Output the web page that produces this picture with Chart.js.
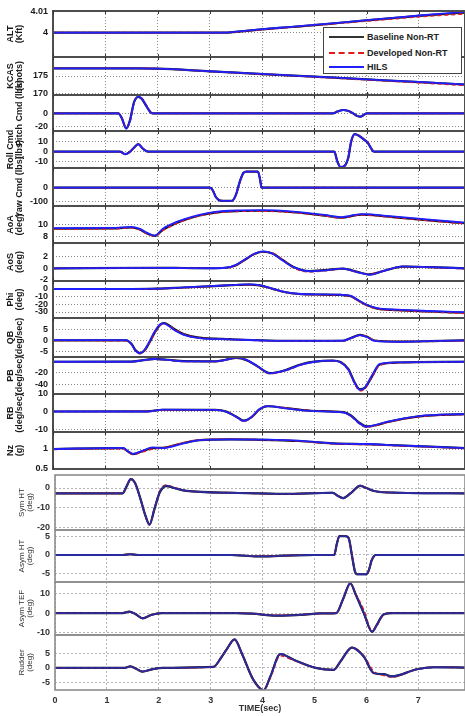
<!DOCTYPE html>
<html lang="en">
<head>
<meta charset="UTF-8">
<title>Baseline Non-RT / Developed Non-RT / HILS</title>
<script src="https://cdn.jsdelivr.net/npm/chart.js"></script>
<style>
  html, body { margin: 0; padding: 0; background: #fff; }
  #page { position: relative; width: 465px; height: 716px; overflow: hidden; }
  .panel { position: absolute; left: 0; }
  #legend { position: absolute; left: 323px; top: 27px; width: 137px; height: 45px; border: 1px solid #444;
            background: #fff; font: bold 9px "Liberation Sans", Arial, sans-serif; color: #222; z-index: 5; }
  #legend .row { position: absolute; left: 0; width: 137px; height: 10px; }
  #legend .swatch { position: absolute; left: 5px; width: 35px; top: 4px; height: 0; }
  #legend .row span { position: absolute; left: 43px; top: 0; line-height: 10px; white-space: nowrap; }
</style>
</head>
<body>
<div id="page">
  <div id="legend">
    <div class="row" style="top:4px"><div class="swatch" style="border-top:2px solid #333"></div><span>Baseline Non-RT</span></div>
    <div class="row" style="top:20px"><div class="swatch" style="border-top:2px dashed #e31a1a"></div><span>Developed Non-RT</span></div>
    <div class="row" style="top:34px"><div class="swatch" style="border-top:2px solid #2020ff"></div><span>HILS</span></div>
  </div>
</div>
<script>
// ---- data ----
const timeTicks = [0, 1, 2, 3, 4, 5, 6, 7];

const altT    = [0, 3.3, 3.6, 4, 4.5, 5, 5.5, 6, 6.5, 7, 7.5, 7.9];
const altBase = [4, 4, 4.0006, 4.0015, 4.0025, 4.0035, 4.0046, 4.0057, 4.0068, 4.0078, 4.0087, 4.0094];
const altDev  = [4, 4, 4.0005, 4.0014, 4.0024, 4.0034, 4.0044, 4.0054, 4.0064, 4.0074, 4.0082, 4.0088];
const altHils = [4, 4, 4.0007, 4.0016, 4.0026, 4.0036, 4.0047, 4.0058, 4.0069, 4.008, 4.009, 4.0097];
const altTicks = [4, 4.01];

const kcasT    = [0, 1, 1.5, 2, 3, 4, 5, 6, 7, 7.9];
const kcasBase = [177.15, 177.15, 177.12, 177.05, 176.3, 175.55, 174.8, 174.05, 173.3, 172.6];
const kcasDev  = [177.15, 177.15, 177.14, 177.04, 176.28, 175.5, 174.73, 173.93, 173.12, 172.35];
const kcasHils = [177.15, 177.15, 177.12, 177.06, 176.32, 175.57, 174.83, 174.08, 173.34, 172.66];
const kcasTicks = [170, 175];

const pitchT    = [0, 1.25, 1.32, 1.4, 1.47, 1.55, 1.63, 1.7, 1.78, 1.86, 1.9, 5.35, 5.45, 5.55, 5.65, 5.74, 5.82, 5.88, 5.95, 6.0, 7.9];
const pitchBase = [0, 0, -8, -22.5, -11, 17, 24.5, 21.5, 11.5, 2, 0, 0, 3, 5, 3.5, 0, -4, -5, -2, 0, 0];
const pitchDev  = [0, 0, -7, -22, -13, 15, 24.5, 22.5, 13, 3, 0, 0, 3, 5, 3.5, 0, -4, -5, -2.5, 0, 0];
const pitchHils = [0, 0, -8, -23, -12, 16, 25, 22, 12, 2, 0, 0, 3, 5, 3.5, 0, -4, -5, -2, 0, 0];
const pitchTicks = [-20, 0];

const rollT    = [0, 1.28, 1.38, 1.45, 1.55, 1.63, 1.72, 1.82, 5.38, 5.44, 5.5, 5.58, 5.65, 5.7, 5.77, 5.85, 5.95, 6.02, 6.1, 6.14, 7.9];
const rollBase = [0, 0, -2.5, -1, 4, 7.5, 3, 0, 0, -10, -15.5, -14, -5.5, 9.5, 17.5, 16, 12, 9, 2, 0, 0];
const rollDev  = [0, 0, -2.3, -1.2, 3.6, 7.3, 3.2, 0, 0, -9.5, -15.2, -14.2, -6, 9, 17.2, 16.4, 12.6, 9.6, 2.6, 0, 0];
const rollHils = [0, 0, -2.5, -1, 4, 7.5, 3, 0, 0, -10, -15.5, -14, -5, 10, 17.5, 16, 12, 9, 2, 0, 0];
const rollTicks = [-10, 0, 10];

const yawT    = [0, 3.0, 3.05, 3.12, 3.2, 3.42, 3.5, 3.57, 3.64, 3.7, 3.92, 3.96, 3.99, 7.9];
const yawBase = [0, 0, -15, -70, -92, -95, -50, 40, 105, 115, 115, 60, 0, 0];
const yawDev  = [0, 0, -13, -66, -91, -95, -53, 35, 102, 115, 115, 65, 2, 0];
const yawHils = [0, 0, -15, -70, -92, -95, -50, 40, 105, 115, 115, 60, 0, 0];
const yawTicks = [-100, 0];

const aoaT    = [0, 1.2, 1.5, 1.65, 1.8, 1.95, 2.1, 2.3, 2.5, 2.8, 3.1, 3.5, 4.0, 4.6, 5.2, 5.5, 5.9, 6.5, 7.2, 7.9];
const aoaBase = [9.3, 9.35, 9.5, 9.2, 8.5, 8.1, 9.1, 10.0, 10.7, 11.5, 12.0, 12.25, 12.3, 12.05, 11.5, 11.15, 11.65, 11.25, 10.7, 10.2];
const aoaDev  = [9.25, 9.3, 9.45, 9.15, 8.45, 8.1, 9.0, 9.95, 10.65, 11.45, 11.95, 12.2, 12.25, 12.0, 11.45, 11.1, 11.6, 11.2, 10.65, 10.1];
const aoaHils = [9.4, 9.45, 9.6, 9.3, 8.6, 8.15, 9.3, 10.2, 10.85, 11.6, 12.1, 12.35, 12.4, 12.15, 11.6, 11.25, 11.75, 11.35, 10.8, 10.3];
const aoaTicks = [8, 10];

const aosT    = [0, 2.0, 2.5, 3.0, 3.3, 3.5, 3.7, 3.85, 4.02, 4.2, 4.4, 4.6, 4.9, 5.2, 5.55, 5.8, 6.06, 6.3, 6.7, 7.2, 7.9];
const aosBase = [0, 0.1, 0.06, 0.02, 0.1, 0.55, 1.65, 2.45, 2.85, 2.55, 1.4, 0.25, -0.45, -0.3, -0.05, -0.55, -1.05, -0.5, 0.3, 0.2, 0];
const aosDev  = [0, 0.1, 0.07, 0.03, 0.08, 0.5, 1.6, 2.4, 2.85, 2.6, 1.45, 0.1, -0.6, -0.4, -0.1, -0.6, -1.0, -0.45, 0.3, 0.15, -0.05];
const aosHils = [0, 0.08, 0.05, 0.02, 0.1, 0.6, 1.7, 2.5, 2.9, 2.5, 1.3, 0.2, -0.5, -0.35, -0.05, -0.6, -1.1, -0.5, 0.35, 0.2, 0];
const aosTicks = [-2, 0, 2];

const phiT    = [0, 1.5, 2.0, 2.5, 3.0, 3.4, 3.75, 3.95, 4.2, 4.45, 4.7, 5.0, 5.5, 5.7, 5.85, 6.0, 6.2, 6.6, 7.2, 7.9];
const phiBase = [0, 0, 0.4, 1.9, 3.5, 4.9, 5.8, 4.8, 0.2, -4.3, -6.5, -7.2, -7.8, -9.5, -15.5, -21, -25.5, -27.6, -29.3, -31];
const phiDev  = [0, -0.3, 0.2, 1.7, 3.4, 4.8, 5.7, 4.6, 0, -4.5, -6.7, -7.4, -8, -9.8, -16, -21.5, -26, -28, -29.8, -31.8];
const phiHils = [0, 0, 0.5, 2.0, 3.6, 5.0, 6.0, 5.0, 0.5, -4, -6.2, -7, -7.5, -9, -15, -20.5, -25, -27, -28.7, -30.3];
const phiTicks = [-30, -20, -10, 0];

const qbT    = [0, 1.4, 1.5, 1.58, 1.66, 1.75, 1.85, 1.95, 2.05, 2.12, 2.2, 2.35, 2.5, 2.8, 3.4, 4.1, 5.0, 5.55, 5.72, 5.87, 6.0, 6.15, 6.6, 7.2, 7.9];
const qbBase = [0.3, 0.3, -1.3, -4.2, -5.5, -4.3, -0.5, 4.0, 7.3, 8.1, 7.4, 5.0, 3.1, 1.5, 0.8, 0.2, 0, 0.1, 1.6, 2.8, 2.0, 0.2, -0.3, -0.1, 0.3];
const qbDev  = [0.2, 0.1, -1.6, -4.6, -5.8, -4.4, -0.6, 3.8, 7.2, 8.0, 7.3, 4.9, 3.0, 1.4, 0.7, 0.1, -0.1, 0, 1.4, 2.6, 2.1, 0.3, -0.3, -0.2, 0.2];
const qbHils = [0.4, 0.4, -1.5, -4.5, -5.6, -4.0, 0, 4.5, 7.6, 8.0, 7.0, 4.5, 2.8, 1.3, 0.7, 0.15, 0, 0.1, 1.5, 2.7, 1.8, 0, -0.4, -0.1, 0.3];
const qbTicks = [-5, 0, 5];

const pbT    = [0, 1.5, 1.7, 1.95, 2.2, 2.5, 3.1, 3.3, 3.51, 3.7, 3.9, 4.15, 4.45, 4.75, 5.0, 5.35, 5.5, 5.65, 5.77, 5.87, 5.97, 6.1, 6.25, 6.6, 7.9];
const pbBase = [-1.2, -1.0, 1.2, 3.6, 2.2, -0.3, -0.4, 2.2, 5.6, 1.6, -8.5, -21, -15.5, -5.5, -1, 0.8, -1.8, -14, -37, -49, -46, -27, -6, -2.5, -1.2];
const pbDev  = [-1.5, -1.3, 0.8, 3.3, 1.8, -0.7, -0.7, 1.8, 5.5, 1.5, -8.8, -22, -16.5, -6.5, -1.5, 0.4, -2.5, -16, -39, -51.5, -47, -28, -7, -2.8, -1.5];
const pbHils = [-1.2, -1.2, 1, 3.5, 2, -0.5, -0.5, 2, 5.8, 2, -8, -21.4, -16, -6, -1.2, 0.6, -2, -15, -38, -50, -45, -25, -5, -2.3, -1.2];
const pbTicks = [-40, -20];

const rbT    = [0, 1.8, 2.1, 3.1, 3.3, 3.5, 3.65, 3.8, 3.95, 4.1, 4.5, 5.0, 5.55, 5.7, 5.85, 6.0, 6.15, 6.4, 7.0, 7.9];
const rbBase = [0, 0.1, 1.0, 0.9, 0.1, -2.8, -5.2, -3.2, 1.2, 3.0, 1.8, 0.3, -0.4, -2.3, -6.2, -8.5, -8.0, -6.0, -2.8, -1.5];
const rbDev  = [0, 0.1, 0.9, 0.8, 0, -3.1, -5.6, -3.4, 1.1, 3.2, 1.9, 0.3, -0.6, -2.7, -6.8, -9.0, -8.2, -6.2, -2.9, -1.6];
const rbHils = [0, 0, 1.1, 0.9, 0, -3, -5.4, -3, 1.5, 3.1, 1.6, 0.2, -0.5, -2.5, -6.5, -8.7, -7.8, -5.8, -2.6, -1.4];
const rbTicks = [-10, 0, 10];

const nzT    = [0, 1.34, 1.43, 1.53, 1.72, 1.9, 2.1, 2.5, 2.8, 3.4, 4.0, 4.7, 5.35, 6.0, 6.6, 7.2, 7.9];
const nzBase = [1.0, 1.02, 0.94, 0.87, 0.95, 1.02, 1.03, 1.15, 1.22, 1.24, 1.23, 1.2, 1.14, 1.12, 1.09, 1.06, 1.02];
const nzDev  = [0.99, 1.01, 0.93, 0.87, 0.93, 1.0, 1.03, 1.16, 1.23, 1.245, 1.23, 1.2, 1.13, 1.11, 1.08, 1.05, 1.01];
const nzHils = [1.0, 1.03, 0.95, 0.88, 0.96, 1.04, 1.02, 1.14, 1.22, 1.24, 1.235, 1.21, 1.14, 1.125, 1.09, 1.06, 1.02];
const nzTicks = [0.5, 1];

const symT    = [0, 1.3, 1.38, 1.46, 1.55, 1.65, 1.74, 1.82, 1.92, 2.02, 2.14, 2.3, 2.53, 3.4, 4.4, 5.35, 5.45, 5.55, 5.7, 5.88, 6.0, 6.15, 6.6, 7.9];
const symBase = [-2.7, -2.7, 0.8, 4.5, 2.2, -5.8, -13.8, -18.5, -10.3, -2.2, 1.0, 0, -1.5, -2.4, -3, -2.4, -4, -5.1, -2.6, 1.1, 0, -1.5, -2.4, -2.7];
const symDev  = [-2.7, -2.7, 0.9, 4.5, 2.1, -5.9, -13.9, -18.6, -10, -1.5, 1.5, 0.2, -1.4, -2.4, -3, -2.4, -4, -5.2, -2.4, 1.2, 0.1, -1.4, -2.4, -2.7];
const symHils = [-2.7, -2.7, 1, 4.6, 2, -6, -14, -18.7, -10, -2, 1.2, 0, -1.5, -2.4, -3, -2.4, -4, -5.2, -2.5, 1.2, 0, -1.5, -2.4, -2.7];
const symTicks = [-20, -10, 0];

const asymT    = [0, 1.3, 1.45, 1.6, 3.4, 3.9, 4.4, 5.0, 5.38, 5.43, 5.48, 5.6, 5.66, 5.72, 5.78, 5.82, 6.0, 6.05, 6.1, 6.18, 7.9];
const asymBase = [0, 0, 0.2, 0, 0, -0.4, -0.2, 0, 0, 3, 5.1, 5.1, 4.5, 0, -4.5, -5.2, -5.2, -4, -1.5, 0, 0];
const asymDev  = [0, 0, 0.3, 0, 0, -0.3, -0.2, 0, 0, 2.8, 5.0, 5.1, 4.6, 0.3, -4.3, -5.2, -5.2, -4.2, -1.7, 0, 0];
const asymHils = [0, 0, 0.2, 0, 0, -0.4, -0.2, 0, 0, 3, 5.1, 5.1, 4.5, 0, -4.5, -5.2, -5.2, -4, -1.5, 0, 0];
const asymTicks = [-5, 0, 5];

const tefT    = [0, 1.3, 1.43, 1.55, 1.69, 1.85, 2.05, 3.5, 3.8, 4.28, 4.8, 5.1, 5.42, 5.55, 5.69, 5.8, 5.95, 6.11, 6.2, 6.33, 6.5, 7.9];
const tefBase = [0, 0, 0.7, -0.5, -2.7, -1, 0, 0, -0.3, -1.3, -0.8, -0.2, 0, 7, 15, 9, 0, -9.5, -6, -0.7, 0, 0];
const tefDev  = [0, 0, 0.7, -0.5, -2.6, -1, 0, 0, -0.3, -1.2, -0.8, -0.2, 0, 7, 15, 9.5, 1.5, -9, -6.5, -1, 0, 0];
const tefHils = [0, 0, 0.7, -0.5, -2.7, -1, 0, 0, -0.3, -1.3, -0.8, -0.2, 0, 7, 15, 9, 0, -9.5, -6, -0.7, 0, 0];
const tefTicks = [-10, 0, 10];

const rudT    = [0, 1.35, 1.45, 1.58, 1.69, 1.85, 2.08, 3.05, 3.2, 3.3, 3.46, 3.6, 3.82, 4.02, 4.15, 4.34, 4.6, 5.02, 5.37, 5.5, 5.72, 5.95, 6.14, 6.33, 6.49, 6.97, 7.3, 7.9];
const rudBase = [0, 0, 0.5, -0.5, -1.3, -0.6, 0, 0.3, 3.5, 6.2, 9.9, 5, -4.1, -7.8, -3, 4.8, 2.8, 0, -0.7, 2.2, 7, 3.9, -1.8, -2.2, -3, -0.5, 0.2, 0.1];
const rudDev  = [0, 0, 0.5, -0.5, -1.3, -0.6, 0, 0.3, 3.5, 6.2, 9.8, 5, -4.1, -7.8, -3.5, 4.2, 2.6, 0, -0.7, 2.2, 7, 4.2, -1.2, -2.6, -3.2, -0.5, 0.2, 0.1];
const rudHils = [0, 0, 0.5, -0.5, -1.3, -0.6, 0, 0.3, 3.5, 6.2, 9.9, 5, -4.1, -7.8, -3, 4.8, 2.8, 0, -0.7, 2.2, 7, 3.9, -1.8, -2.2, -3, -0.5, 0.2, 0.1];
const rudTicks = [-5, 0, 5];

// ---- layout: pixel band of each panel and its y range ----
const panels = [
  { top: 11,  bottom: 57,  min: 3.9886, max: 4.0101, title: ['ALT', '(Kft)'],        t: altT,   base: altBase,   dev: altDev,   hils: altHils,   ticks: altTicks,   group: 'top' },
  { top: 57,  bottom: 95,  min: 169.7,  max: 180.3,  title: ['KCAS', '(knots)'],     t: kcasT,  base: kcasBase,  dev: kcasDev,  hils: kcasHils,  ticks: kcasTicks,  group: 'top' },
  { top: 95,  bottom: 131, min: -26.5,  max: 27.5,   title: ['', 'Pitch Cmd (lbs)'], t: pitchT, base: pitchBase, dev: pitchDev, hils: pitchHils, ticks: pitchTicks, group: 'top' },
  { top: 131, bottom: 168, min: -16.3,  max: 20.7,   title: ['Roll Cmd', '(lbs)'],   t: rollT,  base: rollBase,  dev: rollDev,  hils: rollHils,  ticks: rollTicks,  group: 'top' },
  { top: 168, bottom: 206, min: -131,   max: 141,    title: ['', 'Yaw Cmd (lbs)'],   t: yawT,   base: yawBase,   dev: yawDev,   hils: yawHils,   ticks: yawTicks,   group: 'top' },
  { top: 206, bottom: 243, min: 6.9,    max: 13.1,   title: ['AoA', '(deg)'],        t: aoaT,   base: aoaBase,   dev: aoaDev,   hils: aoaHils,   ticks: aoaTicks,   group: 'top' },
  { top: 243, bottom: 281, min: -2.17,  max: 4.35,   title: ['AoS', '(deg)'],        t: aosT,   base: aosBase,   dev: aosDev,   hils: aosHils,   ticks: aosTicks,   group: 'top' },
  { top: 281, bottom: 318, min: -37.8,  max: 10.4,   title: ['Phi', '(deg)'],        t: phiT,   base: phiBase,   dev: phiDev,   hils: phiHils,   ticks: phiTicks,   group: 'top' },
  { top: 318, bottom: 357, min: -7.3,   max: 10.45,  title: ['QB', '(deg/sec)'],     t: qbT,    base: qbBase,    dev: qbDev,    hils: qbHils,    ticks: qbTicks,    group: 'top' },
  { top: 357, bottom: 394, min: -57,    max: 7,      title: ['PB', '(deg/sec)'],     t: pbT,    base: pbBase,    dev: pbDev,    hils: pbHils,    ticks: pbTicks,    group: 'top' },
  { top: 394, bottom: 432, min: -11.7,  max: 10,     title: ['RB', '(deg/sec)'],     t: rbT,    base: rbBase,    dev: rbDev,    hils: rbHils,    ticks: rbTicks,    group: 'top' },
  { top: 432, bottom: 469, min: 0.5,    max: 1.425,  title: ['Nz', '(g)'],           t: nzT,    base: nzBase,    dev: nzDev,    hils: nzHils,    ticks: nzTicks,    group: 'top' },
  { top: 475, bottom: 530, min: -21.3,  max: 6.6,    title: ['Sym HT', '(deg)'],     t: symT,   base: symBase,   dev: symDev,   hils: symHils,   ticks: symTicks,   group: 'bottom' },
  { top: 530, bottom: 582, min: -7.3,   max: 6.75,   title: ['Asym HT', '(deg)'],    t: asymT,  base: asymBase,  dev: asymDev,  hils: asymHils,  ticks: asymTicks,  group: 'bottom' },
  { top: 582, bottom: 635, min: -11.1,  max: 15.7,   title: ['Asym TEF', '(deg)'],   t: tefT,   base: tefBase,   dev: tefDev,   hils: tefHils,   ticks: tefTicks,   group: 'bottom' },
  { top: 635, bottom: 690, min: -7.7,   max: 11.4,   title: ['Rudder', '(deg)'],     t: rudT,   base: rudBase,   dev: rudDev,   hils: rudHils,   ticks: rudTicks,   group: 'bottom' }
];

const FONT = '"Liberation Sans", Arial, sans-serif';
const styles = {
  top: {
    left: 53, xMax: 7.88, blue: '#2020ff', frame: '#4d4d4d', frameWidth: 2, grid: '#8a8a8a', dash: [1, 2], text: '#1a1a1a',
    tickFont: { family: FONT, size: 9, weight: 'bold' },
    titleFont: { family: FONT, size: 9, weight: 'bold', lineHeight: 1.0 }, col1: 11, edgeTicks: true
  },
  bottom: {
    left: 55, xMax: 7.9, blue: '#2a2aa0', frame: '#8c8c8c', frameWidth: 1.6, grid: '#b4b4b4', dash: [2, 2], text: '#333',
    tickFont: { family: FONT, size: 9, weight: 'bold' },
    titleFont: { family: FONT, size: 8, weight: 'normal', lineHeight: 1.0 }, col1: 22, edgeTicks: false
  }
};

const W = 465, H = 716, PAD = 40;

// box round each plot plus the little time ticks on its top and bottom edge
const framePlugin = {
  id: 'frame',
  afterDatasetsDraw(chart, args, opts) {
    const { ctx, chartArea: a } = chart;
    ctx.save();
    ctx.strokeStyle = opts.color;
    ctx.lineWidth = opts.width;
    ctx.strokeRect(a.left, a.top, a.right - a.left, a.bottom - a.top);
    if (opts.edgeTicks) {
      ctx.lineWidth = 1;
      ctx.strokeStyle = '#333';
      timeTicks.forEach(v => {
        const x = Math.round(chart.scales.x.getPixelForValue(v)) + 0.5;
        ctx.beginPath();
        ctx.moveTo(x, a.top); ctx.lineTo(x, a.top + 3);
        ctx.moveTo(x, a.bottom); ctx.lineTo(x, a.bottom - 3);
        ctx.stroke();
      });
    }
    ctx.restore();
  }
};

function pairs(t, v) {
  return t.map((x, k) => ({ x: x, y: v[k] }));
}

const page = document.getElementById('page');
const legendBox = document.getElementById('legend');

panels.forEach((p, i) => {
  const st = styles[p.group];
  const last = i === panels.length - 1;
  const plotH = p.bottom - p.top;
  const xAxisH = last ? H - p.bottom : 0;
  const h = PAD + plotH + (last ? xAxisH : PAD);

  const div = document.createElement('div');
  div.className = 'panel';
  div.style.top = (p.top - PAD) + 'px';
  div.style.width = W + 'px';
  div.style.height = h + 'px';
  const cv = document.createElement('canvas');
  cv.width = W;
  cv.height = h;
  div.appendChild(cv);
  page.insertBefore(div, legendBox);

  new Chart(cv, {
    type: 'line',
    data: {
      datasets: [
        { label: 'HILS', data: pairs(p.t, p.hils), borderColor: st.blue, borderWidth: 1.8, order: 0 },
        { label: 'Developed Non-RT', data: pairs(p.t, p.dev), borderColor: '#e31a1a', borderDash: [4, 3], borderWidth: 1.6, order: 1 },
        { label: 'Baseline Non-RT', data: pairs(p.t, p.base), borderColor: '#111', borderWidth: 2.2, order: 2 }
      ]
    },
    plugins: [framePlugin],
    options: {
      responsive: false,
      animation: false,
      layout: { padding: { top: PAD, bottom: last ? 0 : PAD, left: 0, right: 0 } },
      elements: {
        point: { radius: 0 },
        line: { cubicInterpolationMode: 'monotone', fill: false }
      },
      plugins: {
        legend: { display: false },
        tooltip: { enabled: false },
        frame: { color: st.frame, width: st.frameWidth, edgeTicks: st.edgeTicks }
      },
      scales: {
        x: {
          type: 'linear',
          min: 0,
          max: st.xMax,
          afterBuildTicks: s => { s.ticks = timeTicks.map(v => ({ value: v })); },
          afterFit: s => { s.height = xAxisH; },
          grid: { color: st.grid, drawTicks: false, lineWidth: 1 },
          border: { display: false, dash: st.dash },
          ticks: { display: last, padding: 5, font: st.tickFont, color: st.text, maxRotation: 0, autoSkip: false,
                   callback: v => String(v) },
          title: { display: last, text: 'TIME(sec)', font: st.tickFont, color: st.text, padding: { top: 0, bottom: 2 } }
        },
        y: {
          min: p.min,
          max: p.max,
          afterBuildTicks: s => { s.ticks = p.ticks.map(v => ({ value: v })); },
          afterFit: s => { s.width = st.left; },
          grid: { color: st.grid, drawTicks: false, lineWidth: 1 },
          border: { display: false, dash: st.dash },
          ticks: { padding: 5, font: st.tickFont, color: st.text, autoSkip: false, callback: v => String(v) },
          title: {
            display: true,
            text: p.title,
            font: st.titleFont,
            color: st.text,
            padding: { top: st.col1 - st.titleFont.size * st.titleFont.lineHeight / 2, bottom: 0 }
          }
        }
      }
    }
  });
});
</script>
</body>
</html>
